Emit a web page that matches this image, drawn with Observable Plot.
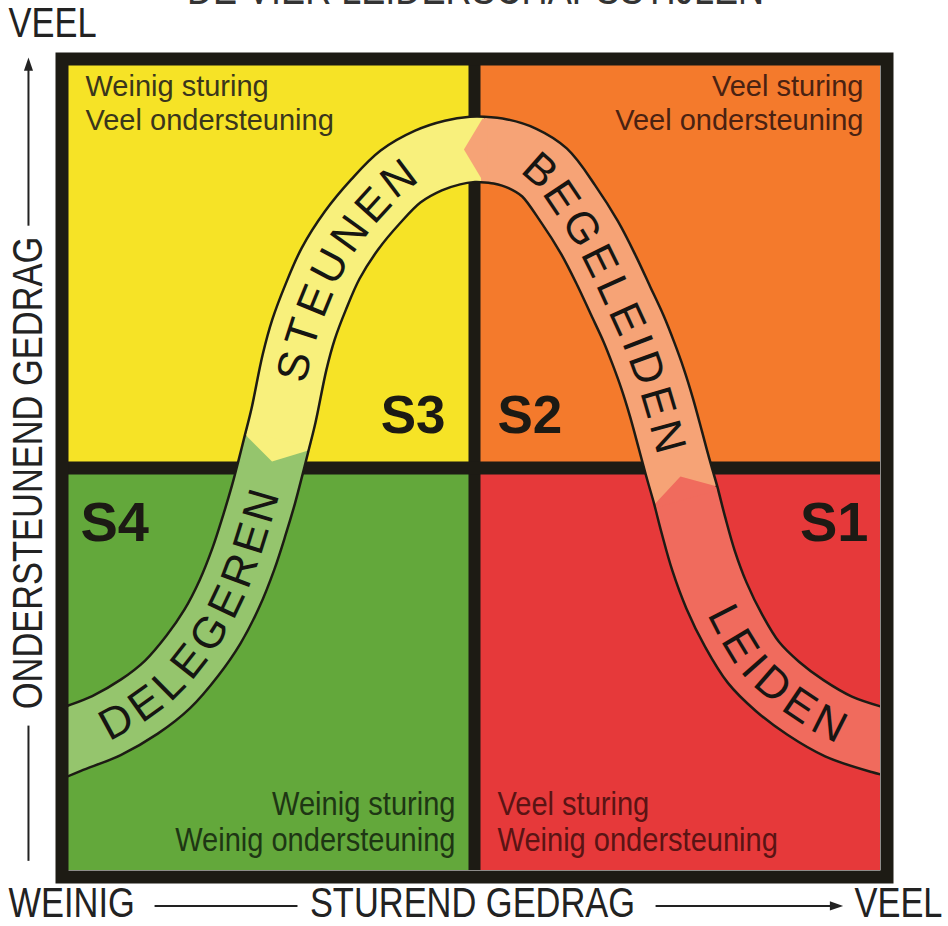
<!DOCTYPE html>
<html>
<head>
<meta charset="utf-8">
<script src="https://cdn.jsdelivr.net/npm/d3@7"></script>
<script src="https://cdn.jsdelivr.net/npm/@observablehq/plot@0.6"></script>
<style>
html, body { margin: 0; padding: 0; background: #fff; }
#chart svg { display: block; }
</style>
</head>
<body>
<div id="chart"></div>
<script>
// ---------------- data ----------------
const title = "DE VIER LEIDERSCHAPSSTIJLEN";
const xAxisTitle = "STUREND GEDRAG";
const yAxisTitle = "ONDERSTEUNEND GEDRAG";
const lowLabel = "WEINIG";
const highLabel = "VEEL";

const styleCodes = ["S1", "S2", "S3", "S4"];
const styleNames = ["LEIDEN", "BEGELEIDEN", "STEUNEN", "DELEGEREN"];
const sturing = ["Veel", "Veel", "Weinig", "Weinig"];
const ondersteuning = ["Weinig", "Veel", "Veel", "Weinig"];

// centre line of the curved band (sturend, ondersteunend)
const delegeren = [[-3.45, 14.66], [0, 16.15], [4.68, 18.01], [8.74, 20.37], [12.19, 23.11], [15.27, 26.71],
  [17.73, 30.31], [19.83, 34.41], [21.55, 38.76], [22.91, 42.98], [24.01, 46.71], [24.88, 50.06], [25.62, 53.04]];
const steunen = [[25.62, 53.04], [26.48, 56.52], [27.83, 63.11], [28.94, 67.20], [30.42, 71.18], [32.27, 75.40],
  [34.85, 79.50], [37.81, 83.11], [40.89, 86.21], [44.33, 88.20], [47.29, 89.19], [49.75, 89.57], [50.99, 89.57]];
const begeleiden = [[50.99, 89.57], [53.20, 89.32], [55.91, 88.45], [58.62, 86.71], [61.58, 82.73], [64.16, 78.63],
  [66.26, 74.53], [67.98, 70.81], [69.58, 67.33], [70.81, 64.22], [71.92, 61.12], [73.03, 57.52], [74.14, 53.42],
  [75.00, 50.19], [75.99, 46.71]];
const leiden = [[75.99, 46.71], [76.97, 42.86], [78.20, 38.51], [79.80, 34.16], [81.90, 29.81], [84.36, 25.84],
  [87.32, 22.86], [90.76, 20.25], [94.83, 17.89], [100, 16.15], [103.69, 15.28]];

// where each name sits along its band (fraction of the segment) and its spread
const nameCentre = [0.575, 0.512, 0.495, 0.525];   // LEIDEN, BEGELEIDEN, STEUNEN, DELEGEREN
const nameSpread = [178, 329, 250, 298];

// ---------------- styling ----------------
const W = 948, H = 926;
const M = {top: 65, right: 68, bottom: 56, left: 68};
const kx = (W - M.left - M.right) / 100, ky = (H - M.top - M.bottom) / 100;
const ink = "#1d1b14";
const quadFill = {S1: "#e6393a", S2: "#f47a2c", S3: "#f6e326", S4: "#63a83b"};
const bandFill = {S1: "#f06b5d", S2: "#f6a376", S3: "#f8f07c", S4: "#95c56d"};
const textFill = {S1: "#5a1414", S2: "#4a2212", S3: "#3a361c", S4: "#1e3614"};
const sans = "'Liberation Sans', Arial, Helvetica, sans-serif";
// two condensed lettering styles, squeezed horizontally after drawing
const narrow = "Liberation Sans, Helvetica, Arial, sans-serif";
const semiNarrow = "Liberation Sans, Arial, Helvetica, sans-serif";
const condense = {[narrow]: 0.82, [semiNarrow]: 0.88};

const segments = [leiden, begeleiden, steunen, delegeren];

const quads = styleCodes.map((code, i) => {
  const hiX = sturing[i] === "Veel", hiY = ondersteuning[i] === "Veel";
  return {code, name: styleNames[i], hiX, hiY,
    x1: hiX ? 50 : 0, x2: hiX ? 100 : 50, y1: hiY ? 50 : 0, y2: hiY ? 100 : 50,
    label: `${sturing[i]} sturing\n${ondersteuning[i]} ondersteuning`};
});

const chevronSymbol = {
  draw(ctx, size) {
    const r = Math.sqrt(size / Math.PI);
    ctx.moveTo(-r, 0.15 * r);
    ctx.lineTo(-r, 0);
    ctx.lineTo(0, -0.6 * r);
    ctx.lineTo(r, 0);
    ctx.lineTo(r, 0.15 * r);
    ctx.closePath();
  }
};
const arrowSymbol = {
  draw(ctx, size) {
    const r = Math.sqrt(size / Math.PI);
    ctx.moveTo(0, 0);
    ctx.lineTo(-0.65 * r, 1.9 * r);
    ctx.lineTo(0.65 * r, 1.9 * r);
    ctx.closePath();
  }
};

// chevrons: each band colour points into the next style (S1 -> S2 -> S3 -> S4)
const chevrons = [
  {code: "S1", at: leiden[0], to: begeleiden[begeleiden.length - 2]},
  {code: "S2", at: begeleiden[0], to: steunen[steunen.length - 2]},
  {code: "S3", at: steunen[0], to: delegeren[delegeren.length - 2]}
];
const angle = d => Math.atan2((d.to[0] - d.at[0]) * kx, (d.to[1] - d.at[1]) * ky) * 180 / Math.PI;

const outline = [...delegeren, ...steunen.slice(1), ...begeleiden.slice(1), ...leiden.slice(1)];

// axis arrows (in chart units, outside the frame)
const axisLines = [
  {x1: 10.6, y1: -4.4, x2: 28.2, y2: -4.4},
  {x1: 72.3, y1: -4.4, x2: 94.0, y2: -4.4},
  {x1: -4.93, y1: 80.1, x2: -4.93, y2: 99.5},
  {x1: -4.93, y1: 18.0, x2: -4.93, y2: 1.2}
];
const arrowTips = [
  {x: 95.4, y: -4.4, rotate: 90},
  {x: -4.93, y: 101.0, rotate: 0}
];

const marks = [
  Plot.rect(quads, {x1: "x1", x2: "x2", y1: "y1", y2: "y2", fill: d => quadFill[d.code]}),
  Plot.ruleX([50], {stroke: ink, strokeWidth: 12}),
  Plot.ruleY([50], {stroke: ink, strokeWidth: 13}),
  Plot.line(outline, {x: d => d[0], y: d => d[1], stroke: ink, strokeWidth: 68, curve: "catmull-rom",
    strokeLinecap: "butt", clip: true})
];
segments.forEach((seg, i) => {
  marks.push(Plot.line(seg, {x: d => d[0], y: d => d[1], stroke: bandFill[styleCodes[i]], strokeWidth: 63,
    curve: "catmull-rom", strokeLinecap: "butt", clip: true}));
});
marks.push(
  Plot.dot(chevrons, {x: d => d.at[0], y: d => d.at[1], rotate: angle, symbol: chevronSymbol, r: 31,
    fill: d => bandFill[d.code], stroke: "none"}),
  Plot.frame({stroke: ink, strokeWidth: 13, inset: -6.5})
);

// quadrant descriptions and style codes
quads.forEach(q => {
  if (q.hiY) {
    marks.push(Plot.text([q], {x: q.hiX ? 100 : 0, y: 100, text: "label", textAnchor: q.hiX ? "end" : "start",
      lineAnchor: "top", dx: q.hiX ? -17 : 17, dy: 7, fontSize: 29, lineHeight: 1.15, fontFamily: sans,
      fill: textFill[q.code]}));
    marks.push(Plot.text([q], {x: 50, y: 50, text: "code", textAnchor: q.hiX ? "start" : "end",
      lineAnchor: "bottom", dx: q.hiX ? 23 : -29, dy: -35, fontSize: 53, fontWeight: "bold", fontFamily: sans,
      fill: "#1c1a14"}));
  } else {
    marks.push(Plot.text([q], {x: 50, y: 0, text: "label", textAnchor: q.hiX ? "start" : "end",
      lineAnchor: "bottom", dx: q.hiX ? 23 : -19, dy: -20, fontSize: 33, lineHeight: 1.08, fontFamily: semiNarrow,
      fill: textFill[q.code]}));
    marks.push(Plot.text([q], {x: q.hiX ? 100 : 0, y: 50, text: "code", textAnchor: q.hiX ? "end" : "start",
      lineAnchor: "top", dx: q.hiX ? -12 : 12, dy: 33, fontSize: 56, fontWeight: "bold", fontFamily: sans,
      fill: "#1c1a14"}));
  }
});

// axes
const axisFont = {fontFamily: narrow, fontSize: 42, fill: "#222"};
marks.push(
  Plot.link(axisLines, {x1: "x1", y1: "y1", x2: "x2", y2: "y2", stroke: "#222", strokeWidth: 2}),
  Plot.dot(arrowTips, {x: "x", y: "y", rotate: "rotate", symbol: arrowSymbol, r: 7, fill: "#222", stroke: "none"}),
  Plot.text([highLabel], {frameAnchor: "top-left", dx: -60, dy: -42, textAnchor: "start", lineAnchor: "middle", ...axisFont}),
  Plot.text([lowLabel], {frameAnchor: "bottom-left", dx: -60, dy: 33, textAnchor: "start", lineAnchor: "middle", ...axisFont}),
  Plot.text([xAxisTitle], {frameAnchor: "bottom", dx: -2, dy: 33, textAnchor: "middle", lineAnchor: "middle", ...axisFont}),
  Plot.text([highLabel], {frameAnchor: "bottom-right", dx: 62, dy: 33, textAnchor: "end", lineAnchor: "middle", ...axisFont}),
  Plot.text([yAxisTitle], {frameAnchor: "left", dx: -40, dy: 5, rotate: -90, textAnchor: "middle", lineAnchor: "middle", ...axisFont}),
  Plot.text([title], {frameAnchor: "top", dx: 1, dy: -62, textAnchor: "middle", lineAnchor: "bottom",
    fontFamily: narrow, fontSize: 44, fill: "#333"})
);

const svg = Plot.plot({
  width: W, height: H,
  marginTop: M.top, marginRight: M.right, marginBottom: M.bottom, marginLeft: M.left,
  x: {domain: [0, 100], axis: null},
  y: {domain: [0, 100], axis: null},
  color: {type: "identity"},
  style: {background: "#fff", fontFamily: sans},
  marks
});
document.getElementById("chart").append(svg);

// condensed lettering (Helvetica Condensed look)
svg.querySelectorAll("g[font-family]").forEach(g => {
  const k = condense[g.getAttribute("font-family")];
  if (!k) return;
  g.querySelectorAll("text").forEach(t => {
    t.setAttribute("transform", ((t.getAttribute("transform") || "") + ` scale(${k},1)`).trim());
  });
});

// names written along the band, following the drawn band paths
const NS = "http://www.w3.org/2000/svg";
const lineGroups = svg.querySelectorAll('g[aria-label="line"]');
segments.forEach((seg, i) => {
  const name = styleNames[i];
  const g = lineGroups[i + 1];
  const path = g && g.querySelector("path");
  if (!path) return;
  const id = "band-path-" + i;
  path.setAttribute("id", id);
  const t = document.createElementNS(NS, "text");
  t.setAttribute("font-family", sans);
  t.setAttribute("font-size", 44);
  t.setAttribute("fill", "#161512");
  t.setAttribute("dy", "0.36em");
  t.setAttribute("text-anchor", "middle");
  const tp = document.createElementNS(NS, "textPath");
  tp.setAttribute("href", "#" + id);
  tp.setAttribute("startOffset", (nameCentre[i] * 100) + "%");
  tp.textContent = name;
  t.appendChild(tp);
  svg.appendChild(t);
  const natural = t.getComputedTextLength();
  const spacing = Math.max(0, (nameSpread[i] - natural) / (name.length - 1));
  t.setAttribute("letter-spacing", spacing.toFixed(2));
});
</script>
</body>
</html>
